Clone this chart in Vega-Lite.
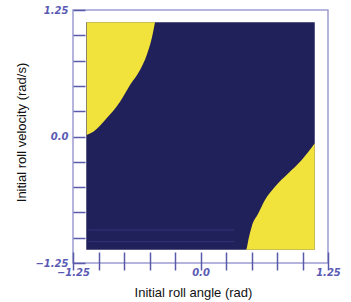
{
  "$schema": "https://vega.github.io/schema/vega-lite/v6.json",
  "width": 255,
  "height": 253,
  "autosize": "none",
  "padding": {"left": 73, "top": 10, "right": 23, "bottom": 39},
  "background": "white",
  "config": {"view": {"stroke": "#9c9cd2", "strokeWidth": 1.5}},
  "datasets": {
    "region": [{"x": -1.12, "x2": 1.12, "y": -1.12, "y2": 1.13}],
    "boundary": [
      {"region": "top-left", "x": -1.116, "y": 0.015, "y2": 1.13},
      {"region": "top-left", "x": -1.051, "y": 0.047, "y2": 1.13},
      {"region": "top-left", "x": -0.92, "y": 0.18, "y2": 1.13},
      {"region": "top-left", "x": -0.789, "y": 0.344, "y2": 1.13},
      {"region": "top-left", "x": -0.691, "y": 0.509, "y2": 1.13},
      {"region": "top-left", "x": -0.593, "y": 0.657, "y2": 1.13},
      {"region": "top-left", "x": -0.527, "y": 0.805, "y2": 1.13},
      {"region": "top-left", "x": -0.478, "y": 0.97, "y2": 1.13},
      {"region": "top-left", "x": -0.446, "y": 1.13, "y2": 1.13},
      {"region": "bottom-right", "x": 0.446, "y": -1.12, "y2": -1.12},
      {"region": "bottom-right", "x": 0.453, "y": -1.105, "y2": -1.12},
      {"region": "bottom-right", "x": 0.469, "y": -1.023, "y2": -1.12},
      {"region": "bottom-right", "x": 0.502, "y": -0.891, "y2": -1.12},
      {"region": "bottom-right", "x": 0.567, "y": -0.759, "y2": -1.12},
      {"region": "bottom-right", "x": 0.632, "y": -0.627, "y2": -1.12},
      {"region": "bottom-right", "x": 0.73, "y": -0.496, "y2": -1.12},
      {"region": "bottom-right", "x": 0.861, "y": -0.364, "y2": -1.12},
      {"region": "bottom-right", "x": 0.992, "y": -0.232, "y2": -1.12},
      {"region": "bottom-right", "x": 1.12, "y": -0.067, "y2": -1.12}
    ],
    "streaks": [
      {"x": -1.1, "x2": 0.33, "y": -0.924},
      {"x": -1.1, "x2": 0.33, "y": -1.039}
    ]
  },
  "encoding": {
    "x": {
      "field": "x",
      "type": "quantitative",
      "scale": {"domain": [-1.25, 1.25], "nice": false, "zero": false},
      "axis": {
        "title": "Initial roll angle (rad)",
        "values": [-1.25, -1, -0.75, -0.5, -0.25, 0, 0.25, 0.5, 0.75, 1, 1.25],
        "labelExpr": "datum.value == 0 ? '0.0' : (abs(datum.value) == 1.25 ? format(datum.value, '.2f') : '')",
        "domain": false,
        "grid": false,
        "offset": -11,
        "tickSize": 18,
        "tickColor": "#5a5aaa",
        "tickWidth": 1.5,
        "labelColor": "#5a5ab4",
        "labelFont": "DejaVu Sans",
        "labelFontStyle": "italic",
        "labelFontWeight": "bold",
        "labelFontSize": 10,
        "labelPadding": -3,
        "labelFlush": false,
        "titleFont": "Liberation Sans",
        "titleFontSize": 13,
        "titleFontWeight": "normal",
        "titleColor": "#111111",
        "titleX": 120,
        "titleY": 40,
        "titleBaseline": "middle"
      }
    },
    "y": {
      "field": "y",
      "type": "quantitative",
      "scale": {"domain": [-1.25, 1.25], "nice": false, "zero": false},
      "axis": {
        "title": "Initial roll velocity (rad/s)",
        "values": [-1.25, -1, -0.75, -0.5, -0.25, 0, 0.25, 0.5, 0.75, 1, 1.25],
        "labelExpr": "datum.value == 0 ? '0.0' : (abs(datum.value) == 1.25 ? format(datum.value, '.2f') : '')",
        "domain": false,
        "grid": false,
        "tickSize": -12,
        "tickColor": "#5a5aaa",
        "tickWidth": 1.5,
        "labelColor": "#5a5ab4",
        "labelFont": "DejaVu Sans",
        "labelFontStyle": "italic",
        "labelFontWeight": "bold",
        "labelFontSize": 10,
        "labelPadding": 17,
        "labelFlush": false,
        "titleFont": "Liberation Sans",
        "titleFontSize": 13,
        "titleFontWeight": "normal",
        "titleColor": "#111111",
        "titleAngle": -90,
        "titleX": -52,
        "titleY": 122,
        "titleBaseline": "middle",
        "titleAlign": "center"
      }
    }
  },
  "layer": [
    {
      "data": {"name": "region"},
      "mark": {"type": "rect", "color": "#20205a"},
      "encoding": {"x2": {"field": "x2"}, "y2": {"field": "y2"}}
    },
    {
      "data": {"name": "streaks"},
      "mark": {"type": "rule", "color": "#34347c", "strokeWidth": 1},
      "encoding": {"x2": {"field": "x2"}}
    },
    {
      "data": {"name": "boundary"},
      "mark": {"type": "area", "color": "#f1e23c", "interpolate": "monotone"},
      "encoding": {"y2": {"field": "y2"}, "detail": {"field": "region"}}
    }
  ]
}
